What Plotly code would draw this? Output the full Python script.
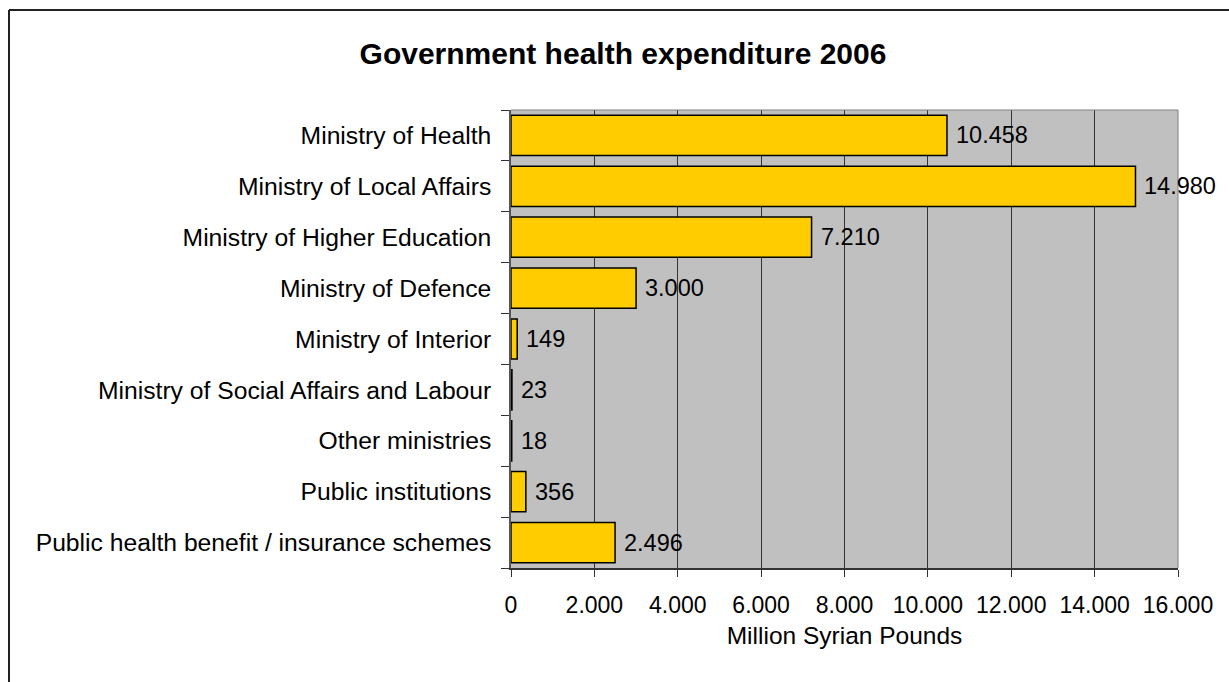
import plotly.graph_objects as go

# Government health expenditure by agency, 2006 (million Syrian pounds)
categories = [
    "Ministry of Health",
    "Ministry of Local Affairs",
    "Ministry of Higher Education",
    "Ministry of Defence",
    "Ministry of Interior",
    "Ministry of Social Affairs and Labour",
    "Other ministries",
    "Public institutions",
    "Public health benefit / insurance schemes",
]
values = [10458, 14980, 7210, 3000, 149, 23, 18, 356, 2496]
x_ticks = [0, 2000, 4000, 6000, 8000, 10000, 12000, 14000, 16000]

W, H = 1229, 682
L, R, T, B = 511, 51, 110, 114
FONT = "Liberation Sans, Arial, sans-serif"

fig = go.Figure(
    go.Bar(
        x=values,
        y=categories,
        orientation="h",
        marker=dict(color="#FFCC00", line=dict(color="#000000", width=1.5)),
        hoverinfo="x+y",
    )
)

# value labels just right of each bar end
for cat, val in zip(categories, values):
    fig.add_annotation(
        x=val, y=cat, xref="x", yref="y",
        text=f"{val:,}".replace(",", "."),
        showarrow=False, xanchor="left", yanchor="middle", xshift=7,
        font=dict(family=FONT, size=23.5, color="#000000"),
    )

# plot area outline (top and right edges in grey)
fig.add_shape(type="line", xref="paper", yref="paper", x0=0, x1=1, y0=1, y1=1,
              line=dict(color="#808080", width=1))
fig.add_shape(type="line", xref="paper", yref="paper", x0=1, x1=1, y0=0, y1=1,
              line=dict(color="#808080", width=1))

# chart frame: top and left edges
pw, ph = W - L - R, H - T - B
def px_x(p):
    return (p - L) / pw
def px_y(p):
    return 1 - (p - T) / ph
fig.add_shape(type="line", xref="paper", yref="paper",
              x0=px_x(9), x1=px_x(1240), y0=px_y(10), y1=px_y(10),
              line=dict(color="#222222", width=2))
fig.add_shape(type="line", xref="paper", yref="paper",
              x0=px_x(9), x1=px_x(9), y0=px_y(10), y1=px_y(700),
              line=dict(color="#222222", width=2))

fig.update_layout(
    width=W, height=H,
    margin=dict(l=L, r=R, t=T, b=B, pad=0),
    paper_bgcolor="#FFFFFF",
    plot_bgcolor="#C0C0C0",
    separators=",.",
    bargap=0.21,
    showlegend=False,
    font=dict(family=FONT, color="#000000"),
    title=dict(
        text="<b>Government health expenditure 2006</b>",
        x=623 / W, xanchor="center", xref="container",
        y=1 - 53 / H, yanchor="middle", yref="container",
        font=dict(family=FONT, size=30, color="#000000"),
    ),
    xaxis=dict(
        range=[0, 16000],
        tickvals=x_ticks,
        tickformat=",",
        tickfont=dict(family=FONT, size=23, color="#000000"),
        ticks="outside", ticklen=7, tickcolor="#333333", tickwidth=1,
        ticklabelstandoff=8,
        showgrid=True, gridcolor="#333333", gridwidth=1,
        showline=True, linecolor="#333333", linewidth=2,
        zeroline=False,
        title=dict(text="Million Syrian Pounds",
                   font=dict(family=FONT, size=24.5, color="#000000"),
                   standoff=10),
        fixedrange=True,
    ),
    yaxis=dict(
        categoryorder="array",
        categoryarray=categories[::-1],
        autorange=False,
        range=[-0.5, len(categories) - 0.5],
        tickson="boundaries",
        ticks="outside", ticklen=8, tickcolor="#333333", tickwidth=1,
        ticklabelstandoff=13,
        tickfont=dict(family=FONT, size=24.7, color="#000000"),
        showgrid=False,
        showline=True, linecolor="#555555", linewidth=1.5,
        zeroline=False,
        fixedrange=True,
    ),
)

fig.write_html("out.html")
